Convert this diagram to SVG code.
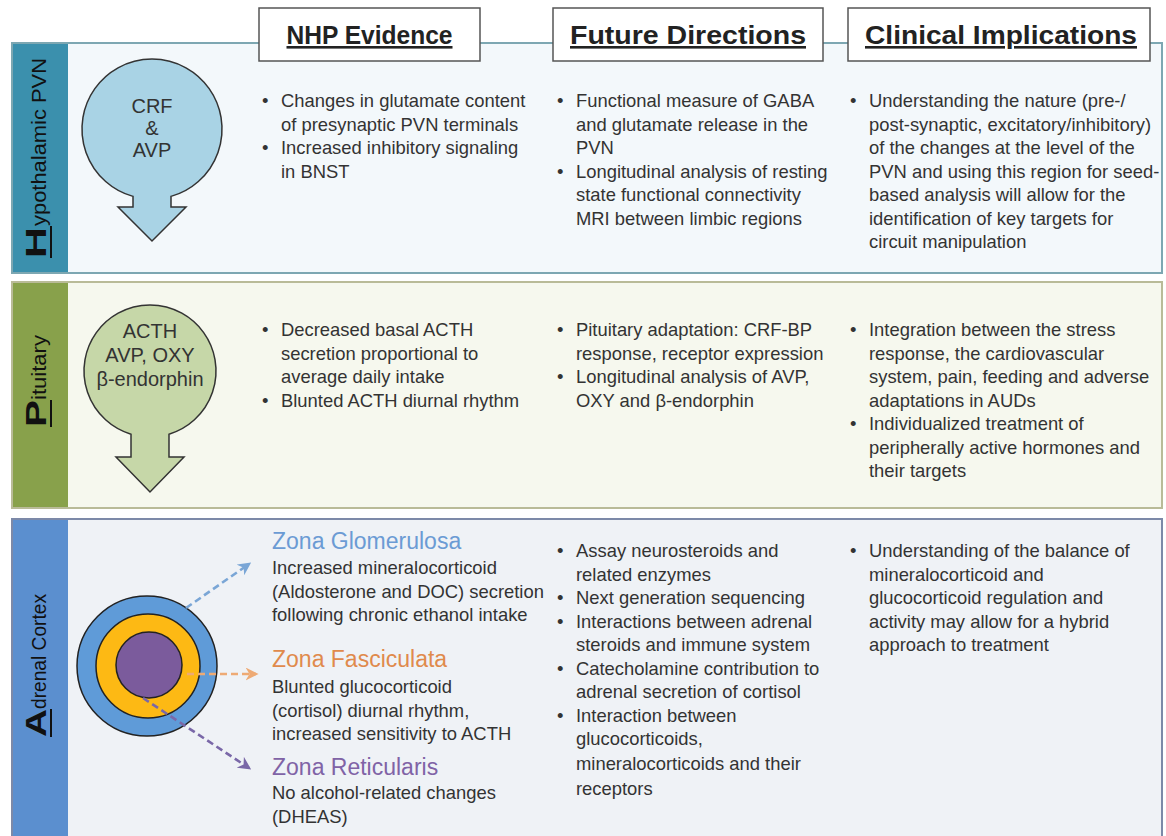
<svg xmlns="http://www.w3.org/2000/svg" width="1166" height="836" viewBox="0 0 1166 836">
  <defs>
    <style>
      .body { font-family: "Liberation Sans", Arial, sans-serif; font-size: 18.4px; fill: #333; }
      .head { font-family: "Liberation Sans", Arial, sans-serif; font-size: 26px; font-weight: bold; fill: #222; text-decoration: underline; }
      .hbox { fill: #fff; stroke: #555; stroke-width: 1.5; }
      .side { font-family: "Liberation Sans", Arial, sans-serif; fill: #111; }
      .big { font-size: 30px; font-weight: bold; }
      .small { font-size: 21px; }
      .icon { font-family: "Liberation Sans", Arial, sans-serif; font-size: 20px; fill: #333; text-anchor: middle; }
      .zona { font-family: "Liberation Sans", Arial, sans-serif; font-size: 23px; }
      .ring { stroke: #222; stroke-width: 1.5; }
      .dash { fill: none; stroke-width: 2.6; stroke-dasharray: 7 4; }
    </style>
    <marker id="mBlue" viewBox="0 0 10 10" refX="8" refY="5" markerWidth="5" markerHeight="5" orient="auto">
      <path d="M0 0 L10 5 L0 10 L3 5 Z" fill="#7aa6d6"/>
    </marker>
    <marker id="mOrange" viewBox="0 0 10 10" refX="8" refY="5" markerWidth="5" markerHeight="5" orient="auto">
      <path d="M0 0 L10 5 L0 10 L3 5 Z" fill="#eeaa74"/>
    </marker>
    <marker id="mPurple" viewBox="0 0 10 10" refX="8" refY="5" markerWidth="5" markerHeight="5" orient="auto">
      <path d="M0 0 L10 5 L0 10 L3 5 Z" fill="#7a68a8"/>
    </marker>
  </defs>

  <rect width="1166" height="836" fill="#ffffff"/>

  <!-- Hypothalamic PVN band -->
  <g id="band-hypothalamic">
    <rect x="12" y="43" width="1150" height="230" fill="#f3f8fb" stroke="#7da7b2" stroke-width="2"/>
    <rect x="13" y="44" width="55" height="228" fill="#3b90ad"/>
    <text class="side big" transform="translate(46,258) rotate(-90)" textLength="31" lengthAdjust="spacingAndGlyphs">H</text>
    <line x1="51" y1="226" x2="51" y2="258" stroke="#111" stroke-width="2"/>
    <text class="side small" transform="translate(46,226) rotate(-90)" textLength="168" lengthAdjust="spacingAndGlyphs">ypothalamic PVN</text>
  </g>

  <!-- Pituitary band -->
  <g id="band-pituitary">
    <rect x="12" y="282" width="1150" height="226" fill="#f6f8ee" stroke="#b9bb98" stroke-width="2"/>
    <rect x="13" y="283" width="55" height="224" fill="#88a14b"/>
    <text class="side big" transform="translate(46,427) rotate(-90)" textLength="27" lengthAdjust="spacingAndGlyphs">P</text>
    <line x1="51" y1="400" x2="51" y2="427" stroke="#111" stroke-width="2"/>
    <text class="side small" transform="translate(46,400) rotate(-90)" textLength="65" lengthAdjust="spacingAndGlyphs">ituitary</text>
  </g>

  <!-- Adrenal Cortex band -->
  <g id="band-adrenal">
    <rect x="12" y="519" width="1150" height="330" fill="#eff2f6" stroke="#7c89a8" stroke-width="2"/>
    <rect x="13" y="520" width="55" height="316" fill="#5b8fcf"/>
    <text class="side big" transform="translate(46,737) rotate(-90)" textLength="28" lengthAdjust="spacingAndGlyphs">A</text>
    <line x1="51" y1="709" x2="51" y2="737" stroke="#111" stroke-width="2"/>
    <text class="side small" transform="translate(46,709) rotate(-90)" textLength="115" lengthAdjust="spacingAndGlyphs">drenal Cortex</text>
  </g>

  <!-- Column headers -->
  <g id="header-nhp">
    <rect class="hbox" x="259" y="8" width="221" height="53"/>
    <text class="head" x="369.5" y="44" text-anchor="middle" textLength="166" lengthAdjust="spacingAndGlyphs">NHP Evidence</text>
  </g>
  <g id="header-future">
    <rect class="hbox" x="553" y="8" width="270" height="53"/>
    <text class="head" x="688" y="44" text-anchor="middle" textLength="236" lengthAdjust="spacingAndGlyphs">Future Directions</text>
  </g>
  <g id="header-clinical">
    <rect class="hbox" x="848" y="8" width="302" height="53"/>
    <text class="head" x="1001" y="44" text-anchor="middle" textLength="272" lengthAdjust="spacingAndGlyphs">Clinical Implications</text>
  </g>

  <!-- CRF & AVP release symbol -->
  <g id="node-crf">
    <path d="M133 196.4 A70 70 0 1 1 171 196.4 L171 207 L186 207 L152 241 L118 207 L133 207 Z" fill="#a9d3e5" stroke="#333" stroke-width="1.5"/>
    <text class="icon"><tspan x="152" y="113">CRF</tspan><tspan x="152" y="135">&amp;</tspan><tspan x="152" y="157">AVP</tspan></text>
  </g>

  <!-- Pituitary hormone symbol -->
  <g id="node-acth">
    <path d="M131 434.2 A66 66 0 1 1 169 434.2 L169 457 L184 457 L150 492 L116 457 L131 457 Z" fill="#c6d7a8" stroke="#333" stroke-width="1.5"/>
    <text class="icon"><tspan x="150" y="338">ACTH</tspan><tspan x="150" y="362">AVP, OXY</tspan><tspan x="150" y="386">β-endorphin</tspan></text>
  </g>

  <!-- Adrenal cortex zones -->
  <g id="node-adrenal">
    <circle class="ring" cx="147" cy="666" r="70" fill="#5f9bd8"/>
    <circle class="ring" cx="148" cy="666" r="52" fill="#fdb914"/>
    <circle class="ring" cx="149" cy="665" r="33" fill="#7b5b9c"/>
  </g>

  <g id="connectors">
    <line class="dash" x1="186" y1="608" x2="249" y2="564" stroke="#7aa6d6" marker-end="url(#mBlue)"/>
    <line class="dash" x1="187" y1="674" x2="256" y2="674" stroke="#eeaa74" marker-end="url(#mOrange)"/>
    <line class="dash" x1="143" y1="698" x2="249" y2="768" stroke="#7a68a8" marker-end="url(#mPurple)"/>
  </g>

  <!-- Hypothalamic row text -->
  <g id="text-hyp-nhp" class="body">
    <text x="262" y="107">•</text><text x="262" y="154">•</text>
    <text><tspan x="281" y="107">Changes in glutamate content</tspan><tspan x="281" y="130.5">of presynaptic PVN terminals</tspan><tspan x="281" y="154">Increased inhibitory signaling</tspan><tspan x="281" y="177.5">in BNST</tspan></text>
  </g>
  <g id="text-hyp-future" class="body">
    <text x="557" y="107">•</text><text x="557" y="177.5">•</text>
    <text><tspan x="576" y="107">Functional measure of GABA</tspan><tspan x="576" y="130.5">and glutamate release in the</tspan><tspan x="576" y="154">PVN</tspan><tspan x="576" y="177.5">Longitudinal analysis of resting</tspan><tspan x="576" y="201">state functional connectivity</tspan><tspan x="576" y="224.5">MRI between limbic regions</tspan></text>
  </g>
  <g id="text-hyp-clinical" class="body">
    <text x="850" y="107">•</text>
    <text><tspan x="869" y="107">Understanding the nature (pre-/</tspan><tspan x="869" y="130.5">post-synaptic, excitatory/inhibitory)</tspan><tspan x="869" y="154">of the changes at the level of the</tspan><tspan x="869" y="177.5">PVN and using this region for seed-</tspan><tspan x="869" y="201">based analysis will allow for the</tspan><tspan x="869" y="224.5">identification of key targets for</tspan><tspan x="869" y="248">circuit manipulation</tspan></text>
  </g>

  <!-- Pituitary row text -->
  <g id="text-pit-nhp" class="body">
    <text x="262" y="336">•</text><text x="262" y="406.5">•</text>
    <text><tspan x="281" y="336">Decreased basal ACTH</tspan><tspan x="281" y="359.5">secretion proportional to</tspan><tspan x="281" y="383">average daily intake</tspan><tspan x="281" y="406.5">Blunted ACTH diurnal rhythm</tspan></text>
  </g>
  <g id="text-pit-future" class="body">
    <text x="557" y="336">•</text><text x="557" y="383">•</text>
    <text><tspan x="576" y="336">Pituitary adaptation: CRF-BP</tspan><tspan x="576" y="359.5">response, receptor expression</tspan><tspan x="576" y="383">Longitudinal analysis of AVP,</tspan><tspan x="576" y="406.5">OXY and β-endorphin</tspan></text>
  </g>
  <g id="text-pit-clinical" class="body">
    <text x="850" y="336">•</text><text x="850" y="430">•</text>
    <text><tspan x="869" y="336">Integration between the stress</tspan><tspan x="869" y="359.5">response, the cardiovascular</tspan><tspan x="869" y="383">system, pain, feeding and adverse</tspan><tspan x="869" y="406.5">adaptations in AUDs</tspan><tspan x="869" y="430">Individualized treatment of</tspan><tspan x="869" y="453.5">peripherally active hormones and</tspan><tspan x="869" y="477">their targets</tspan></text>
  </g>

  <!-- Adrenal row text -->
  <g id="text-adr-nhp" class="body">
    <text class="zona" x="272" y="549" fill="#6b9bd4">Zona Glomerulosa</text>
    <text><tspan x="272" y="574">Increased mineralocorticoid</tspan><tspan x="272" y="597.5">(Aldosterone and DOC) secretion</tspan><tspan x="272" y="621">following chronic ethanol intake</tspan></text>
    <text class="zona" x="272" y="667" fill="#e08a4c">Zona Fasciculata</text>
    <text><tspan x="272" y="693">Blunted glucocorticoid</tspan><tspan x="272" y="716.5">(cortisol) diurnal rhythm,</tspan><tspan x="272" y="740">increased sensitivity to ACTH</tspan></text>
    <text class="zona" x="272" y="775" fill="#8063a6">Zona Reticularis</text>
    <text><tspan x="272" y="799">No alcohol-related changes</tspan><tspan x="272" y="822.5">(DHEAS)</tspan></text>
  </g>
  <g id="text-adr-future" class="body">
    <text x="557" y="557">•</text><text x="557" y="604">•</text><text x="557" y="627.5">•</text><text x="557" y="674.5">•</text><text x="557" y="721.5">•</text>
    <text><tspan x="576" y="557">Assay neurosteroids and</tspan><tspan x="576" y="580.5">related enzymes</tspan><tspan x="576" y="604">Next generation sequencing</tspan><tspan x="576" y="627.5">Interactions between adrenal</tspan><tspan x="576" y="651">steroids and immune system</tspan><tspan x="576" y="674.5">Catecholamine contribution to</tspan><tspan x="576" y="698">adrenal secretion of cortisol</tspan><tspan x="576" y="721.5">Interaction between</tspan><tspan x="576" y="745">glucocorticoids,</tspan><tspan x="576" y="770">mineralocorticoids and their</tspan><tspan x="576" y="795">receptors</tspan></text>
  </g>
  <g id="text-adr-clinical" class="body">
    <text x="850" y="557">•</text>
    <text><tspan x="869" y="557">Understanding of the balance of</tspan><tspan x="869" y="580.5">mineralocorticoid and</tspan><tspan x="869" y="604">glucocorticoid regulation and</tspan><tspan x="869" y="627.5">activity may allow for a hybrid</tspan><tspan x="869" y="651">approach to treatment</tspan></text>
  </g>
</svg>
